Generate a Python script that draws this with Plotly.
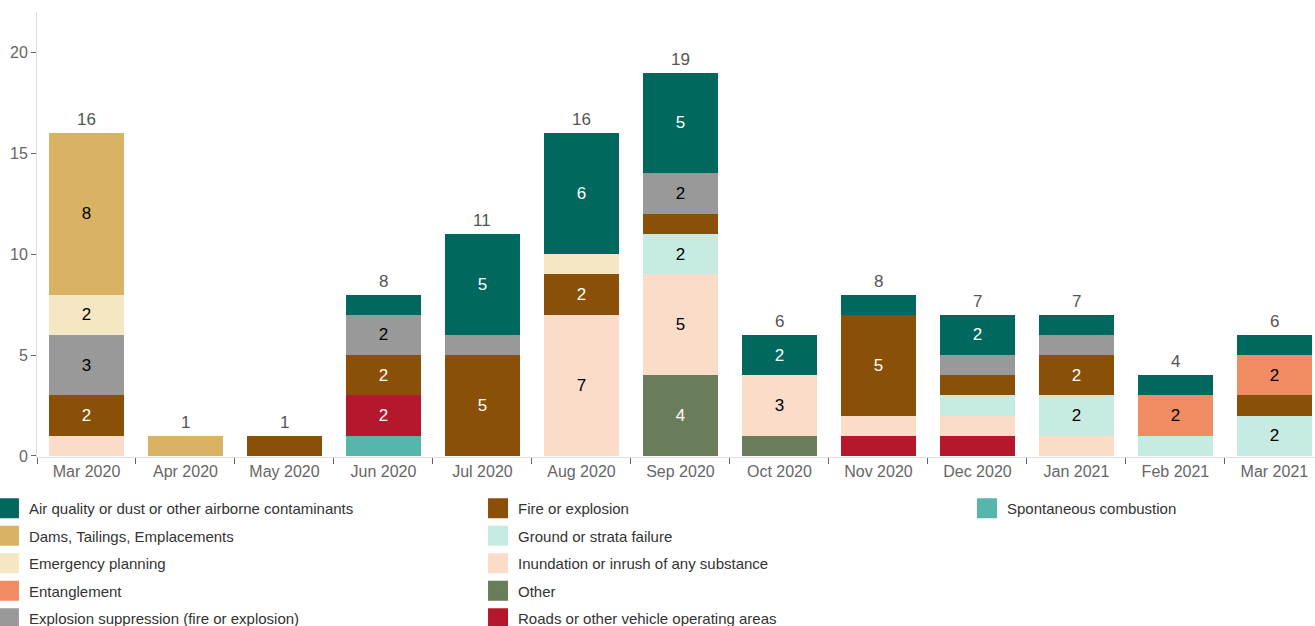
import plotly.graph_objects as go

months = ["Mar 2020", "Apr 2020", "May 2020", "Jun 2020", "Jul 2020", "Aug 2020",
          "Sep 2020", "Oct 2020", "Nov 2020", "Dec 2020", "Jan 2021", "Feb 2021", "Mar 2021"]

# series values (stack order bottom -> top)
other         = [0, 0, 0, 0, 0, 0, 4, 1, 0, 0, 0, 0, 0]
spontaneous   = [0, 0, 0, 1, 0, 0, 0, 0, 0, 0, 0, 0, 0]
roads         = [0, 0, 0, 2, 0, 0, 0, 0, 1, 1, 0, 0, 0]
inundation    = [1, 0, 0, 0, 0, 7, 5, 3, 1, 1, 1, 0, 0]
ground        = [0, 0, 0, 0, 0, 0, 2, 0, 0, 1, 2, 1, 2]
fire          = [2, 0, 1, 2, 5, 2, 1, 0, 5, 1, 2, 0, 1]
entanglement  = [0, 0, 0, 0, 0, 0, 0, 0, 0, 0, 0, 2, 2]
explosion     = [3, 0, 0, 2, 1, 0, 2, 0, 0, 1, 1, 0, 0]
emergency     = [2, 0, 0, 0, 0, 1, 0, 0, 0, 0, 0, 0, 0]
dams          = [8, 1, 0, 0, 0, 0, 0, 0, 0, 0, 0, 0, 0]
air_quality   = [0, 0, 0, 1, 5, 6, 5, 2, 1, 2, 1, 1, 1]

series = [
    # name, values, colour, text colour, legend column
    ("Other", other, "#6A7D5A", "white", "legend2"),
    ("Spontaneous combustion", spontaneous, "#57B6AB", "white", "legend3"),
    ("Roads or other vehicle operating areas", roads, "#B5182D", "white", "legend2"),
    ("Inundation or inrush of any substance", inundation, "#FBDCC8", "black", "legend2"),
    ("Ground or strata failure", ground, "#C6EBE3", "black", "legend2"),
    ("Fire or explosion", fire, "#8B5008", "white", "legend2"),
    ("Entanglement", entanglement, "#EF8C62", "black", "legend"),
    ("Explosion suppression (fire or explosion)", explosion, "#999999", "black", "legend"),
    ("Emergency planning", emergency, "#F5E6C4", "black", "legend"),
    ("Dams, Tailings, Emplacements", dams, "#D9B263", "black", "legend"),
    ("Air quality or dust or other airborne contaminants", air_quality, "#00685E", "white", "legend"),
]

legend_rank = {
    "Air quality or dust or other airborne contaminants": 1,
    "Dams, Tailings, Emplacements": 2,
    "Emergency planning": 3,
    "Entanglement": 4,
    "Explosion suppression (fire or explosion)": 5,
    "Fire or explosion": 1,
    "Ground or strata failure": 2,
    "Inundation or inrush of any substance": 3,
    "Other": 4,
    "Roads or other vehicle operating areas": 5,
    "Spontaneous combustion": 1,
}

FONT = "Liberation Sans, Arial, sans-serif"

fig = go.Figure()
for name, vals, color, tcolor, leg in series:
    fig.add_trace(go.Bar(
        x=months, y=vals, name=name,
        marker=dict(color=color, line=dict(width=0)),
        text=[str(v) if v >= 2 else "" for v in vals],
        textposition="inside", insidetextanchor="middle", textangle=0,
        textfont=dict(color=tcolor, size=17, family=FONT),
        constraintext="none",
        showlegend=False, legendgroup=name,
        hoverinfo="x+y+name",
    ))
    # legend entry (square swatch) sharing the bar trace's legend group
    fig.add_trace(go.Scatter(
        x=[None], y=[None], mode="markers", name=name,
        marker=dict(symbol="square", size=16, color=color, line=dict(width=4, color=color)),
        legend=leg, legendgroup=name, legendrank=legend_rank[name],
        showlegend=True, hoverinfo="skip",
    ))

totals = [sum(s[1][i] for s in series) for i in range(len(months))]
for m, t in zip(months, totals):
    fig.add_annotation(
        x=m, y=t, text=str(t), showarrow=False, yanchor="bottom", yshift=2,
        font=dict(size=17, color="#555555", family=FONT),
    )

legend_common = dict(
    orientation="v", yanchor="top", xanchor="left",
    font=dict(size=15, color="#333333", family=FONT),
    traceorder="grouped", tracegroupgap=5, itemwidth=30, itemsizing="trace",
    bgcolor="rgba(0,0,0,0)",
)

fig.update_layout(
    width=1315, height=626,
    barmode="stack", bargap=0.24,
    plot_bgcolor="white", paper_bgcolor="white",
    margin=dict(l=37, r=0, t=12, b=169, autoexpand=False),
    font=dict(family=FONT, color="#555555"),
    showlegend=True,
    legend=dict(x=-0.0376, y=-0.0787, **legend_common),
    legend2=dict(x=0.3451, y=-0.0787, **legend_common),
    legend3=dict(x=0.7277, y=-0.0787, **legend_common),
    xaxis=dict(
        range=[-0.5, 12.41], showline=True, linecolor="#dddddd", linewidth=1,
        ticks="outside", tickson="boundaries", ticklen=6, tickcolor="#666666",
        tickfont=dict(size=16, color="#666666"), showgrid=False, fixedrange=True,
    ),
    yaxis=dict(
        range=[-0.05, 22], showline=True, linecolor="#dddddd", linewidth=1,
        ticks="outside", ticklen=5, tickcolor="#666666", tickvals=[0, 5, 10, 15, 20],
        tickfont=dict(size=16, color="#666666"), showgrid=False, zeroline=False,
        fixedrange=True,
    ),
)

fig.write_html("out.html", config=dict(displayModeBar=False),
               post_script="document.body.style.margin='0px';")
